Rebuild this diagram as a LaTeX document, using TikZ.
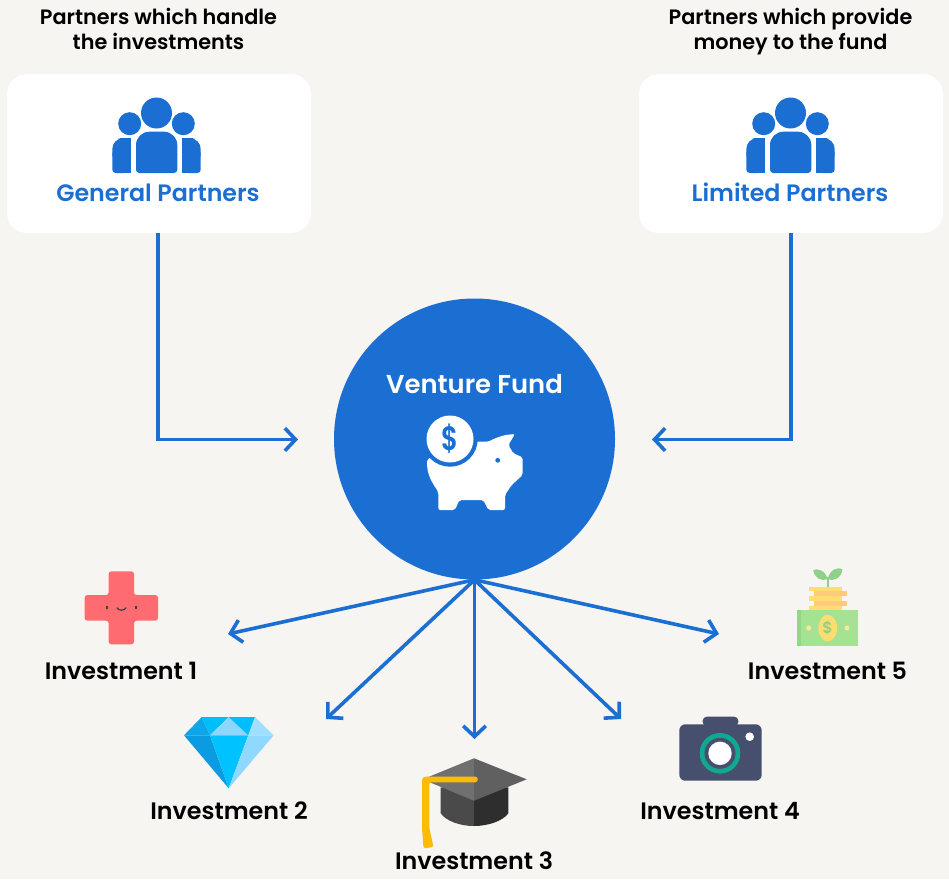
\documentclass[tikz,border=0pt]{standalone}
\usepackage{fontspec}
\setmainfont{Poppins SemiBold}
\usetikzlibrary{arrows.meta}
\definecolor{bgc}{HTML}{F7F5F2}
\definecolor{vblue}{HTML}{1B6FD3}
\definecolor{crossc}{HTML}{FE6B70}
\definecolor{dia1}{HTML}{0FA5E9}
\definecolor{dia2}{HTML}{00BEFA}
\definecolor{dia3}{HTML}{8ED6FB}
\definecolor{dia4}{HTML}{9FE0FF}
\definecolor{dia5}{HTML}{0A9BE0}
\definecolor{dia6}{HTML}{00C2FF}
\definecolor{dia7}{HTML}{8FD8FF}
\definecolor{capa}{HTML}{4A4A4A}
\definecolor{capb}{HTML}{2E2E2E}
\definecolor{capc}{HTML}{707070}
\definecolor{capd}{HTML}{606060}
\definecolor{tassel}{HTML}{FDBB05}
\definecolor{camc}{HTML}{464F6D}
\definecolor{camg}{HTML}{10A88F}
\definecolor{coiny}{HTML}{FFDD70}
\definecolor{coino}{HTML}{FFCB7A}
\definecolor{leafg}{HTML}{8FD08A}
\definecolor{billa}{HTML}{A5E294}
\definecolor{billb}{HTML}{8FD885}
\tikzset{
  lbl/.style={font=\fontsize{17.85pt}{20pt}\selectfont,text=black,anchor=base,inner sep=0pt},
  hdr/.style={font=\fontsize{15.6pt}{18.75pt}\selectfont,text=black,align=center,inner sep=0pt},
  plbl/.style={font=\fontsize{17.8pt}{20pt}\selectfont,text=vblue,anchor=base,inner sep=0pt},
  cardbox/.style={fill=white,rounded corners=15pt,minimum width=228pt,minimum height=119.25pt,inner sep=0pt},
  link/.style={draw=vblue,line width=2.7pt,-{Straight Barb[length=8pt,width=17pt,line width=2.7pt]}},
}
\newcommand{\peopleicon}{%
  \fill[vblue] (156.5,113) circle (15.5);
  \fill[vblue] (129.7,123.7) circle (11.5);
  \fill[vblue] (183.3,123.7) circle (11.5);
  \fill[vblue,rounded corners=10pt] (136,131.7) rectangle (177.3,165);
  \fill[vblue,rounded corners=2.5pt] (136,150) rectangle (177.3,173);
  \fill[vblue] (120,138.3) rectangle (131,173);
  \fill[vblue,rounded corners=8pt] (112.3,138.3) rectangle (128,165);
  \fill[vblue,rounded corners=2.5pt] (112.3,150) rectangle (128,173);
  \fill[vblue] (182,138.3) rectangle (193,173);
  \fill[vblue,rounded corners=8pt] (185,138.3) rectangle (200.7,165);
  \fill[vblue,rounded corners=2.5pt] (185,150) rectangle (200.7,173);
}
\begin{document}
\begin{tikzpicture}[x=0.75pt,y=-0.75pt]
\useasboundingbox (0,0) rectangle (949,879);
\fill[bgc] (0,0) rectangle (949,879);

% cards
\node[cardbox] (gp) at (159,153.5) {};
\node[cardbox] (lp) at (791,153.5) {};
\peopleicon
\begin{scope}[shift={(634,0)}]\peopleicon\end{scope}
\node[plbl] (gpt) at (158,201) {General Partners};
\node[plbl] (lpt) at (790,201) {Limited Partners};
\node[hdr] (gph) at (158.5,28.5) {Partners which handle\\the investments};
\node[hdr] (lph) at (790.5,31.5) {Partners which provide\\money to the fund};

% fund
\node[circle,fill=vblue,minimum size=210.75pt,inner sep=0pt] (fund) at (474.5,439) {};
\node[font=\fontsize{19.4pt}{22pt}\selectfont,text=white,anchor=base,inner sep=0pt] (fundt) at (474.5,393.7) {Venture Fund};
% piggy
\fill[white,rounded corners=1.5pt] (427.3,459) .. controls (426,475) and (434,485) .. (438.3,492) -- (438.3,510) -- (455,510) -- (459.3,500) -- (483.3,500) -- (488.3,510) -- (505,510) -- (505,495) -- (511.7,485) -- (522.7,475) -- (522.7,457.3) -- (513.3,453.3) -- (508.3,445) -- (515,434) -- (505,435) -- (495,438.3) -- (488.3,441.7) -- (470,441.7) -- cycle;
\fill[vblue] (450,439) circle (27.7);
\fill[white] (450,439) circle (23.5);
\node[font=\fontsize{23pt}{24pt}\selectfont,text=vblue,inner sep=0pt,xscale=0.85,yscale=1.1] (dollar) at (450,439) {\$};
\fill[vblue] (497.7,460.3) circle (2.4);

% targets
\coordinate (e1) at (228,634);
\coordinate (e2) at (326,719);
\coordinate (e3) at (474.5,739);
\coordinate (e4) at (621,719);
\coordinate (e5) at (719,634);
\coordinate (gpin) at (298,439.5);
\coordinate (lpin) at (652,439.5);
\coordinate (gpc) at (158,439.5);
\coordinate (lpc) at (791,439.5);
\draw[link] (gp.south -| gpc) -- (gpc) -- (gpin);
\draw[link] (lp.south -| lpc) -- (lpc) -- (lpin);
\foreach \e in {e1,e2,e3,e4,e5} \draw[link] (fund.south) -- (\e);

% cross
\fill[crossc,rounded corners=2pt] (108.7,595) -- (108.7,571.3) -- (134,571.3) -- (134,595) -- (158,595) -- (158,620.7) -- (134,620.7) -- (134,644.3) -- (108.7,644.3) -- (108.7,620.7) -- (84.7,620.7) -- (84.7,595) -- cycle;
\draw[black!75,line width=0.9pt] (107,605.5) -- (107,609);
\draw[black!75,line width=0.9pt] (136,605.5) -- (136,609);
\draw[black!75,line width=0.9pt,line cap=round] (117,607.8) .. controls (119,611) and (124,611) .. (126,607.8);
\node[lbl] (i1) at (121,679) {Investment 1};

% diamond
\fill[dia1] (184,735.3) -- (201.7,717) -- (210,735.3) -- cycle;
\fill[dia2] (201.7,717) -- (228.7,717) -- (210,735.3) -- cycle;
\fill[dia3] (228.7,717) -- (210,735.3) -- (248.3,735.3) -- cycle;
\fill[dia2] (228.7,717) -- (255,717) -- (248.3,735.3) -- cycle;
\fill[dia4] (255,717) -- (273.7,735.3) -- (248.3,735.3) -- cycle;
\fill[dia5] (184,735.3) -- (210,735.3) -- (228.7,788.3) -- cycle;
\fill[dia6] (210,735.3) -- (248.3,735.3) -- (228.7,788.3) -- cycle;
\fill[dia7] (248.3,735.3) -- (273.7,735.3) -- (228.7,788.3) -- cycle;
\node[lbl] (i2) at (229,819.3) {Investment 2};

% cap
\fill[capa] (440.7,787.3) -- (440.7,813.3) .. controls (446,821) and (460,826) .. (474,826) -- (474,790) -- cycle;
\fill[capb] (508.3,787.3) -- (508.3,813.3) .. controls (503,821) and (488,826) .. (474,826) -- (474,790) -- cycle;
\fill[capc] (474,758.3) -- (422.7,779.3) -- (474,800.7) -- cycle;
\fill[capd] (474,758.3) -- (526.7,779.3) -- (474,800.7) -- cycle;
\fill[tassel,rounded corners=1.2pt] (422,779) -- (424,776.5) -- (477.5,776.5) -- (477.5,782.3) -- (429.3,782.3) -- (429.3,828) -- (433.5,847) -- (423.5,848.3) -- (422,828) -- cycle;
\node[lbl] (i3) at (474,869.3) {Investment 3};

% camera
\fill[camc,rounded corners=3pt] (702.7,726) -- (702.7,716.7) -- (738.3,716.7) -- (738.3,726) -- cycle;
\fill[camc,rounded corners=4.5pt] (679.3,724.3) rectangle (761.7,780.7);
\fill[camg] (720,753.3) circle (20.3);
\fill[camc] (720,753.3) circle (15.5);
\fill[white] (720,753.3) circle (11.7);
\fill[white] (749.7,736.7) circle (4.3);
\node[lbl] (i4) at (720,819.3) {Investment 4};

% money plant
\draw[leafg,line width=1.5pt] (827.7,587) -- (827.7,577);
\fill[leafg] (827.7,579) .. controls (825,570) and (817,568) .. (813.3,570) .. controls (814,578) and (822,582) .. (827.7,579) -- cycle;
\fill[leafg] (827.7,579) .. controls (830,569) and (838,567) .. (842.3,569) .. controls (842,578) and (833,582) .. (827.7,579) -- cycle;
\fill[coiny] (809,586.7) rectangle (842.3,591);
\fill[coino] (814.3,591) rectangle (846.7,595.7);
\fill[coiny] (809,595.7) rectangle (842.3,600.7);
\fill[coino] (814.3,600.7) rectangle (846.7,605.7);
\fill[coiny] (809,605.7) rectangle (842.3,610);
\fill[billa] (797.3,610) rectangle (858.3,645.7);
\fill[billb] (797.3,610) rectangle (801,645.7);
\fill[coiny] (827.7,628) ellipse (9.3 and 13.3);
\node[font=\fontsize{12pt}{13pt}\selectfont,text=leafg,inner sep=0pt] (mdollar) at (827.7,628) {\$};
\fill[coiny!70!white] (808.7,628) circle (2.5);
\fill[coiny!70!white] (847,628) circle (2.5);
\node[lbl] (i5) at (827.5,679) {Investment 5};
\end{tikzpicture}
\end{document}
